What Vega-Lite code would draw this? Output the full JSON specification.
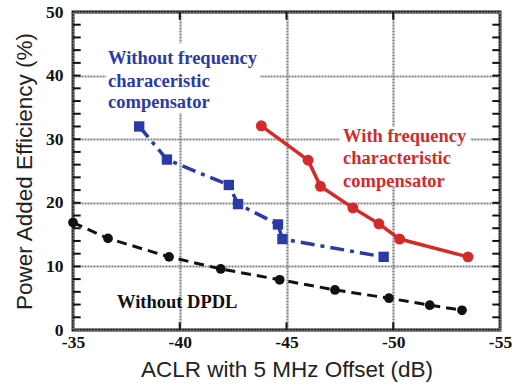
{
  "$schema": "https://vega.github.io/schema/vega-lite/v6.json",
  "width": 427,
  "height": 318,
  "autosize": "none",
  "padding": {"left": 73, "top": 12, "right": 23, "bottom": 56},
  "background": "white",
  "config": {
    "view": {"stroke": "#111", "strokeWidth": 2.8},
    "axis": {"domain": false, "labelOverlap": false, "labelFlush": false}
  },
  "datasets": {
    "pae": [
      {"series": "dpdl", "aclr": -35.0, "pae": 16.9},
      {"series": "dpdl", "aclr": -36.64, "pae": 14.4},
      {"series": "dpdl", "aclr": -39.5, "pae": 11.5},
      {"series": "dpdl", "aclr": -41.92, "pae": 9.6},
      {"series": "dpdl", "aclr": -44.68, "pae": 7.9},
      {"series": "dpdl", "aclr": -47.27, "pae": 6.3},
      {"series": "dpdl", "aclr": -49.8, "pae": 5.0},
      {"series": "dpdl", "aclr": -51.71, "pae": 3.9},
      {"series": "dpdl", "aclr": -53.22, "pae": 3.1},
      {"series": "nocomp", "aclr": -38.1, "pae": 32.0},
      {"series": "nocomp", "aclr": -39.4, "pae": 26.8},
      {"series": "nocomp", "aclr": -42.3, "pae": 22.8},
      {"series": "nocomp", "aclr": -42.73, "pae": 19.8},
      {"series": "nocomp", "aclr": -44.6, "pae": 16.6},
      {"series": "nocomp", "aclr": -44.81, "pae": 14.3},
      {"series": "nocomp", "aclr": -49.55, "pae": 11.5},
      {"series": "comp", "aclr": -43.82, "pae": 32.1},
      {"series": "comp", "aclr": -46.01, "pae": 26.7},
      {"series": "comp", "aclr": -46.59, "pae": 22.6},
      {"series": "comp", "aclr": -48.11, "pae": 19.2},
      {"series": "comp", "aclr": -49.33, "pae": 16.7},
      {"series": "comp", "aclr": -50.3, "pae": 14.3},
      {"series": "comp", "aclr": -53.5, "pae": 11.5}
    ],
    "notes": [
      {"series": "nocomp", "aclr": -36.64, "pae": 42.8, "text": "Without frequency"},
      {"series": "nocomp", "aclr": -36.64, "pae": 39.2, "text": "characeristic"},
      {"series": "nocomp", "aclr": -36.64, "pae": 35.8, "text": "compensator"},
      {"series": "comp", "aclr": -47.65, "pae": 30.5, "text": "With frequency"},
      {"series": "comp", "aclr": -47.65, "pae": 27.0, "text": "characteristic"},
      {"series": "comp", "aclr": -47.65, "pae": 23.5, "text": "compensator"},
      {"series": "dpdl", "aclr": -37.06, "pae": 4.4, "text": "Without DPDL"}
    ],
    "masks": [
      {"aclr": -36.55, "aclr2": -43.76, "pae": 34.1, "pae2": 45.1},
      {"aclr": -47.5, "aclr2": -53.6, "pae": 22.5, "pae2": 31.9}
    ],
    "yticks": [
      {"pae": 2}, {"pae": 4}, {"pae": 6}, {"pae": 8}, {"pae": 10}, {"pae": 12}, {"pae": 14}, {"pae": 16},
      {"pae": 18}, {"pae": 20}, {"pae": 22}, {"pae": 24}, {"pae": 26}, {"pae": 28}, {"pae": 30}, {"pae": 32},
      {"pae": 34}, {"pae": 36}, {"pae": 38}, {"pae": 40}, {"pae": 42}, {"pae": 44}, {"pae": 46}, {"pae": 48}
    ],
    "xticks": [{"aclr": -40}, {"aclr": -45}, {"aclr": -50}]
  },
  "layer": [
    {
      "data": {"name": "masks"},
      "mark": {"type": "rect", "fill": "white"},
      "encoding": {
        "x": {
          "field": "aclr", "type": "quantitative",
          "scale": {"domain": [-55, -35], "reverse": true, "nice": false, "zero": false},
          "axis": {
            "orient": "bottom",
            "values": [-35, -40, -45, -50, -55],
            "labelExpr": "datum.value + ''",
            "labelFont": "Liberation Serif", "labelFontWeight": "bold", "labelFontSize": 17.5, "labelColor": "#111",
            "labelPadding": 3,
            "ticks": false,
            "grid": true, "gridColor": "#808080", "gridWidth": 2.2, "gridDash": [2, 1],
            "title": "ACLR with 5 MHz Offset (dB)",
            "titleFont": "Liberation Sans", "titleFontWeight": "normal", "titleFontSize": 22.5, "titleColor": "#222",
            "titlePadding": 8
          }
        },
        "x2": {"field": "aclr2"},
        "y": {
          "field": "pae", "type": "quantitative",
          "scale": {"domain": [0, 50], "nice": false, "zero": false},
          "axis": {
            "orient": "left",
            "values": [0, 10, 20, 30, 40, 50],
            "labelExpr": "datum.value + ''",
            "labelFont": "Liberation Serif", "labelFontWeight": "bold", "labelFontSize": 17.5, "labelColor": "#111",
            "labelPadding": 10,
            "ticks": false,
            "grid": true, "gridColor": "#808080", "gridWidth": 2.2, "gridDash": [2, 1],
            "title": "Power Added Efficiency (%)",
            "titleFont": "Liberation Sans", "titleFontWeight": "normal", "titleFontSize": 22.5, "titleColor": "#222",
            "titlePadding": 9
          }
        },
        "y2": {"field": "pae2"}
      }
    },
    {
      "data": {"name": "yticks"},
      "mark": {"type": "rule", "color": "#111", "strokeWidth": 2},
      "encoding": {
        "y": {"field": "pae", "type": "quantitative"},
        "x": {"datum": -35},
        "x2": {"datum": -35.36}
      }
    },
    {
      "data": {"name": "yticks"},
      "mark": {"type": "rule", "color": "#111", "strokeWidth": 2},
      "encoding": {
        "y": {"field": "pae", "type": "quantitative"},
        "x": {"datum": -55},
        "x2": {"datum": -54.64}
      }
    },
    {
      "data": {"name": "xticks"},
      "mark": {"type": "rule", "color": "#111", "strokeWidth": 2},
      "encoding": {
        "x": {"field": "aclr", "type": "quantitative"},
        "y": {"datum": 0},
        "y2": {"datum": 1.2}
      }
    },
    {
      "data": {"name": "xticks"},
      "mark": {"type": "rule", "color": "#111", "strokeWidth": 2},
      "encoding": {
        "x": {"field": "aclr", "type": "quantitative"},
        "y": {"datum": 50},
        "y2": {"datum": 48.8}
      }
    },
    {
      "data": {"name": "pae"},
      "transform": [{"filter": "datum.series === 'dpdl'"}],
      "mark": {"type": "line", "color": "#111", "strokeWidth": 3, "strokeDash": [10, 6]},
      "encoding": {
        "x": {"field": "aclr", "type": "quantitative"},
        "y": {"field": "pae", "type": "quantitative"}
      }
    },
    {
      "data": {"name": "pae"},
      "transform": [{"filter": "datum.series === 'nocomp'"}],
      "mark": {"type": "line", "color": "#2b3aa6", "strokeWidth": 3.5, "strokeDash": [14, 6, 4, 6]},
      "encoding": {
        "x": {"field": "aclr", "type": "quantitative"},
        "y": {"field": "pae", "type": "quantitative"}
      }
    },
    {
      "data": {"name": "pae"},
      "transform": [{"filter": "datum.series === 'comp'"}],
      "mark": {"type": "line", "color": "#d42a2a", "strokeWidth": 3.5},
      "encoding": {
        "x": {"field": "aclr", "type": "quantitative"},
        "y": {"field": "pae", "type": "quantitative"}
      }
    },
    {
      "data": {"name": "pae"},
      "mark": {"type": "point", "filled": true, "opacity": 1},
      "encoding": {
        "x": {"field": "aclr", "type": "quantitative"},
        "y": {"field": "pae", "type": "quantitative"},
        "shape": {"field": "series", "type": "nominal", "scale": {"domain": ["dpdl", "nocomp", "comp"], "range": ["circle", "square", "circle"]}, "legend": null},
        "size": {"field": "series", "type": "nominal", "scale": {"domain": ["dpdl", "nocomp", "comp"], "range": [95, 120, 105]}, "legend": null},
        "color": {"field": "series", "type": "nominal", "scale": {"domain": ["dpdl", "nocomp", "comp"], "range": ["#111111", "#2b3aa6", "#d42a2a"]}, "legend": null}
      }
    },
    {
      "data": {"name": "notes"},
      "mark": {"type": "text", "align": "left", "baseline": "middle", "font": "Liberation Serif", "fontWeight": "bold", "fontSize": 18.5},
      "encoding": {
        "x": {"field": "aclr", "type": "quantitative"},
        "y": {"field": "pae", "type": "quantitative"},
        "text": {"field": "text"},
        "color": {"field": "series", "type": "nominal", "scale": {"domain": ["dpdl", "nocomp", "comp"], "range": ["#111111", "#2b3aa6", "#d42a2a"]}, "legend": null}
      }
    }
  ]
}
